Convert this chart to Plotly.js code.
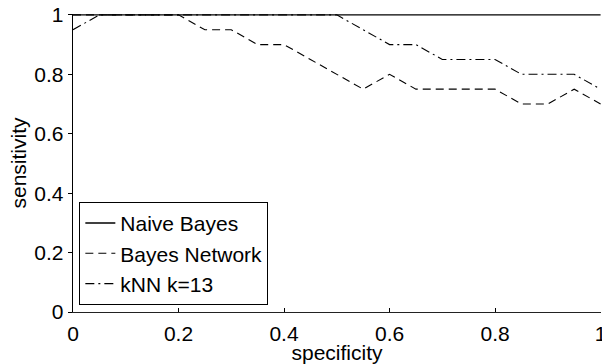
<!DOCTYPE html>
<html>
<head>
<meta charset="utf-8">
<script src="https://cdn.plot.ly/plotly-3.0.1.min.js"></script>
<style>html,body{margin:0;padding:0;background:#fff;}#chart{width:602px;height:364px;}</style>
</head>
<body>
<div id="chart"></div>
<script>
// specificity values (x)
const specificity = [0,0.05,0.1,0.15,0.2,0.25,0.3,0.35,0.4,0.45,0.5,0.55,0.6,0.65,0.7,0.75,0.8,0.85,0.9,0.95,1.0];
// sensitivity per method (y)
const naiveBayes   = [1,1,1,1,1,1,1,1,1,1,1,1,1,1,1,1,1,1,1,1,1];
const bayesNetwork = [1,1,1,1,1,0.95,0.95,0.9,0.9,0.85,0.8,0.75,0.8,0.75,0.75,0.75,0.75,0.7,0.7,0.75,0.7];
const knn13        = [0.95,1,1,1,1,1,1,1,1,1,1,0.95,0.9,0.9,0.85,0.85,0.85,0.8,0.8,0.8,0.75];
const seriesNames  = ["Naive Bayes","Bayes Network","kNN k=13"];
const xTicks = [0,0.2,0.4,0.6,0.8,1];
const xTickText = ["0","0.2","0.4","0.6","0.8","1"];
const yTicks = [0,0.2,0.4,0.6,0.8,1];
const yTickText = ["0","0.2","0.4","0.6","0.8","1"];

const FONT = "Liberation Sans, Arial, Helvetica, sans-serif";
const FS = 21;
const traces = [
  {x: specificity, y: naiveBayes, name: seriesNames[0], mode: "lines",
   line: {color: "#000", width: 1.3, dash: "solid"}},
  {x: specificity, y: bayesNetwork, name: seriesNames[1], mode: "lines",
   line: {color: "#000", width: 1.1, dash: "8px,5px"}},
  {x: specificity, y: knn13, name: seriesNames[2], mode: "lines",
   line: {color: "#000", width: 1.1, dash: "9px,4px,2px,4px"}}
];

const layout = {
  width: 602, height: 364,
  margin: {l: 73, r: 1, t: 14, b: 52, pad: 0},
  paper_bgcolor: "#fff", plot_bgcolor: "#fff",
  font: {family: FONT, size: FS, color: "#000"},
  showlegend: true,
  legend: {
    x: 0.012, y: 0.024, xanchor: "left", yanchor: "bottom",
    bgcolor: "#fff", bordercolor: "#000", borderwidth: 1,
    font: {family: FONT, size: FS, color: "#000"},
    tracegroupgap: 0
  },
  xaxis: {
    range: [0, 1.0008], tickmode: "array", tickvals: xTicks, ticktext: xTickText,
    ticks: "inside", ticklen: 4, tickcolor: "#000", tickwidth: 1,
    showline: true, linecolor: "#222", linewidth: 1.3,
    showgrid: false, zeroline: false, mirror: false,
    ticklabelstandoff: 2, ticklabeloverflow: "allow",
    tickfont: {family: FONT, size: FS, color: "#000"},
    title: {text: "specificity", font: {family: FONT, size: FS, color: "#000"}, standoff: 0}
  },
  yaxis: {
    range: [0, 1.003], tickmode: "array", tickvals: yTicks, ticktext: yTickText,
    ticks: "outside", ticklen: 4, tickcolor: "#000", tickwidth: 1,
    showline: true, linecolor: "#000", linewidth: 1.3,
    showgrid: false, zeroline: false, mirror: false,
    ticklabeloverflow: "allow",
    tickfont: {family: FONT, size: FS, color: "#000"},
    title: {text: "sensitivity", font: {family: FONT, size: FS, color: "#000"}, standoff: 2}
  }
};

Plotly.newPlot("chart", traces, layout, {staticPlot: true, displayModeBar: false});
</script>
</body>
</html>
